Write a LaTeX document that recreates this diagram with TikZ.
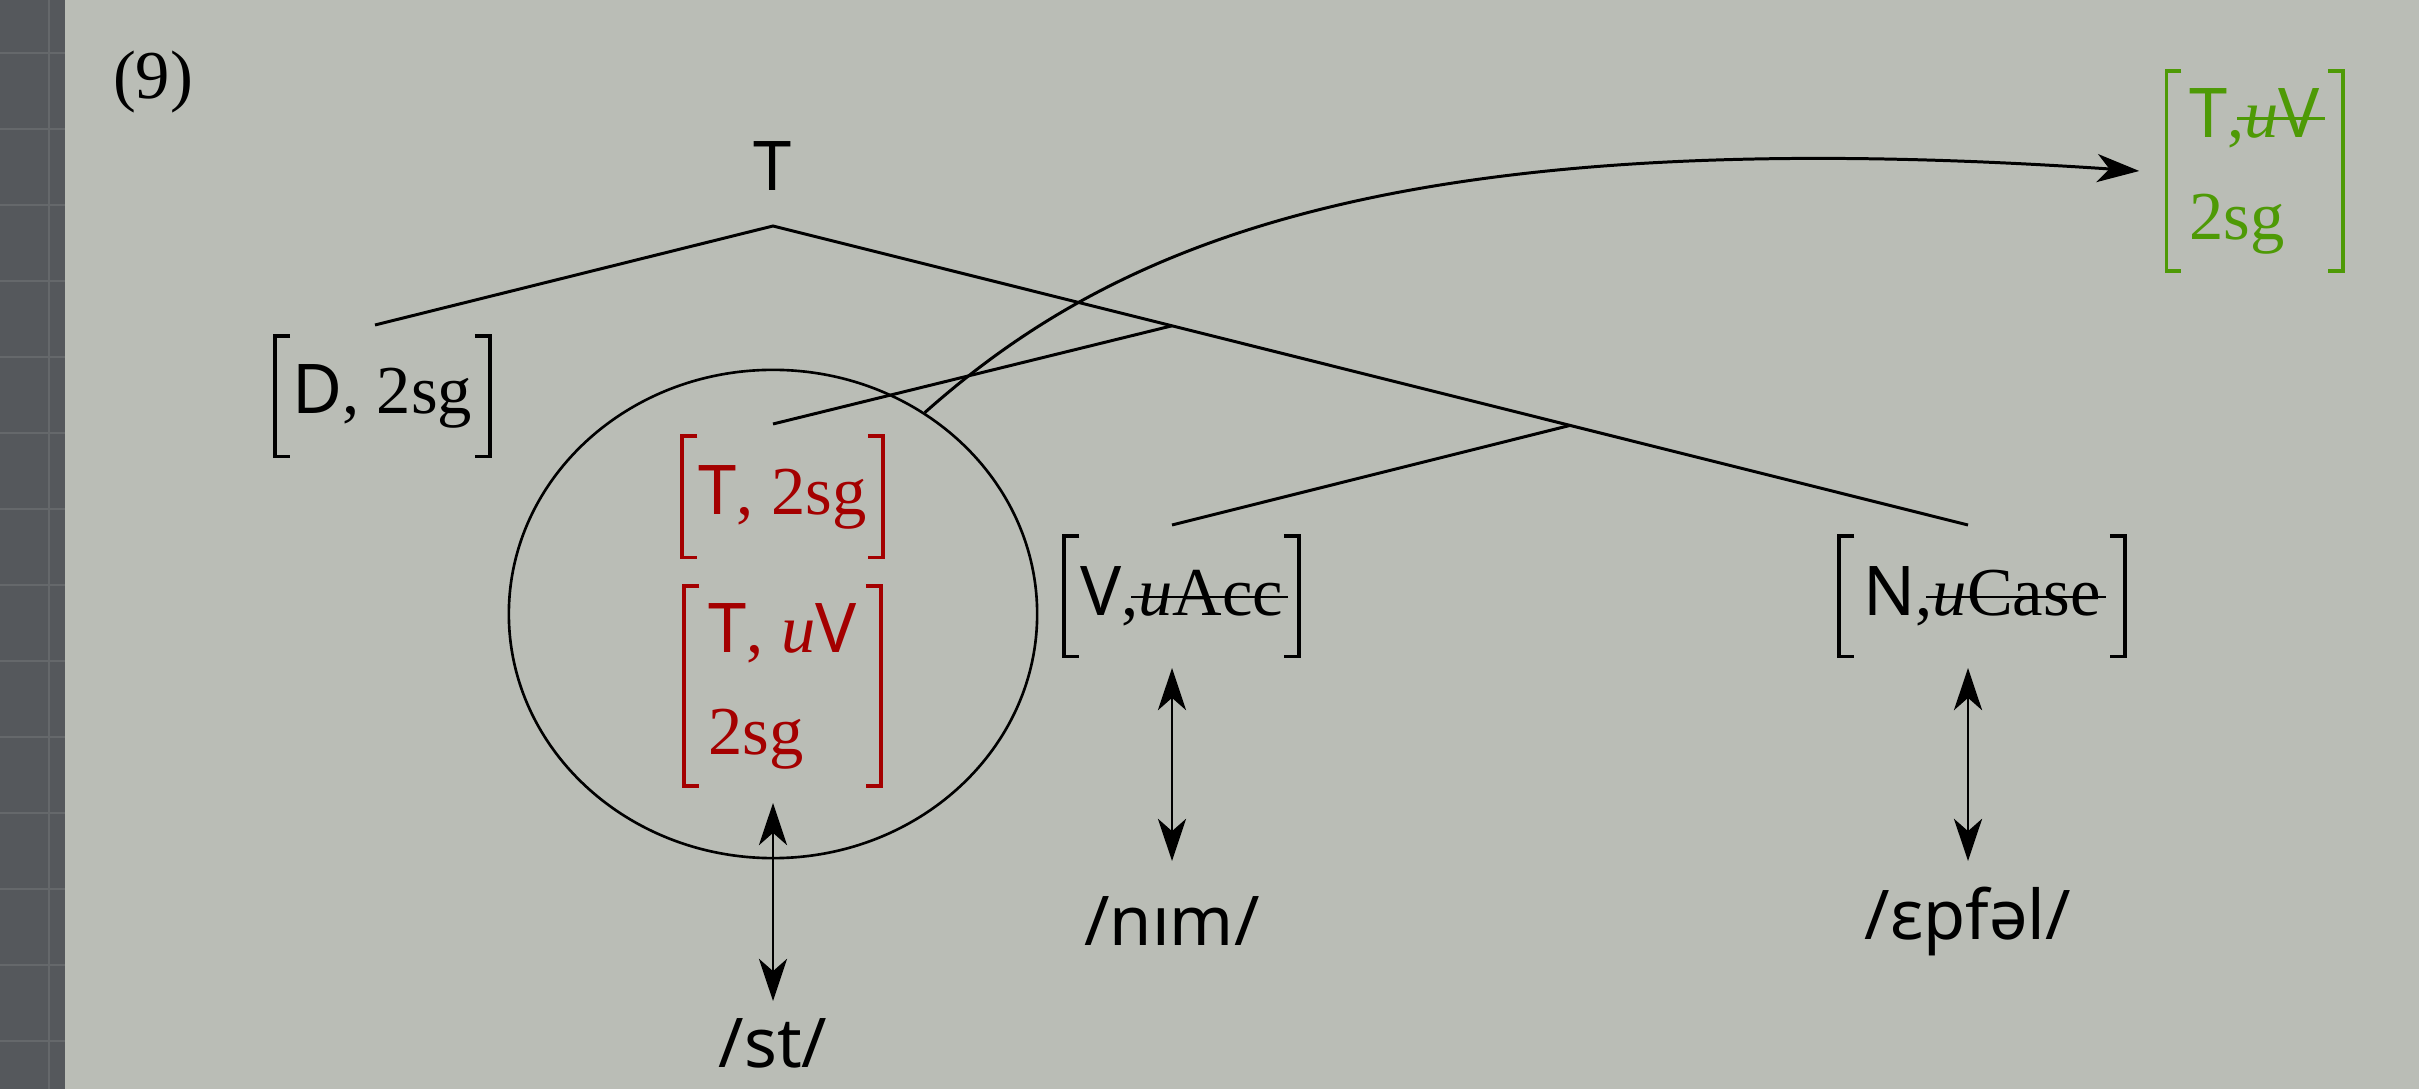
\documentclass[tikz,border=0pt]{standalone}
\usepackage{fontspec}
\setmainfont{Liberation Serif}
\newfontfamily\sanf{Noto Sans}
\usetikzlibrary{arrows.meta,shapes.geometric}
\definecolor{bg}{HTML}{BABDB6}
\definecolor{strip}{HTML}{55585C}
\definecolor{gridc}{HTML}{65686B}
\definecolor{redf}{HTML}{A40000}
\definecolor{greenf}{HTML}{4E9A06}
\newsavebox\strkbox
\newcommand\strk[1]{\sbox\strkbox{#1}\rlap{\kern-2pt\rule[0.55ex]{\dimexpr\wd\strkbox+3.5pt\relax}{0.65pt}}\usebox\strkbox}
\tikzset{
  lbl/.style={inner sep=0pt, font=\fontsize{19.5}{29}\selectfont},
  fbox/.style={lbl, align=left},
  tree/.style={line width=0.85pt},
  brk/.style={line width=1pt, line join=miter},
  dbl/.style={line width=0.8pt, {Stealth[length=12pt,width=8pt,inset=3.5pt]}-{Stealth[length=12pt,width=8pt,inset=3.5pt]}},
}
\newcommand\brk[2]{%
  \draw[brk,#2] ([xshift=0.15cm]#1.north west) -- (#1.north west) -- (#1.south west) -- ([xshift=0.15cm]#1.south west);
  \draw[brk,#2] ([xshift=-0.15cm]#1.north east) -- (#1.north east) -- (#1.south east) -- ([xshift=-0.15cm]#1.south east);}
\begin{document}
\begin{tikzpicture}[x=0.01cm,y=-0.01cm]
\useasboundingbox (0,0) rectangle (2419,1089);
\fill[bg] (0,0) rectangle (2419,1089);
\fill[strip] (0,0) rectangle (65,1089);
\foreach \yy in {53,129,...,1041} \draw[gridc, line width=0.35pt] (0,\yy) -- (65,\yy);
\draw[gridc, line width=0.35pt] (49,0) -- (49,1089);

% ellipse
\node[draw, ellipse, minimum width=5.28cm, minimum height=4.88cm, inner sep=0pt, line width=0.75pt] (ell) at (773,614) {};

% labels
\node[lbl] (num) at (153,82) {(9)};
\node[lbl] (T) at (773,166) {\sanf T};
\node[fbox, minimum width=2.13cm, minimum height=1.19cm] (D) at (382.5,396.5) {{\sanf D}, 2sg};
\node[fbox, text=redf, minimum width=1.99cm, minimum height=1.20cm] (R1) at (782.5,497) {{\sanf T}, 2sg};
\node[fbox, text=redf, minimum width=1.95cm, minimum height=1.98cm] (R2) at (782.5,686) {{\sanf T}, \textit{u}{\sanf V}\\2sg};
\node[fbox, minimum width=2.33cm, minimum height=1.19cm] (V) at (1181.5,596.5) {{\sanf V},\strk{\textit{u}Acc}};
\node[fbox, minimum width=2.84cm, minimum height=1.19cm] (N) at (1982,596.5) {{\sanf N},\strk{\textit{u}Case}};
\node[fbox, text=greenf, minimum width=1.75cm, minimum height=1.98cm] (G) at (2254.5,171) {{\sanf T},\strk{\textit{u}{\sanf V}}\\2sg};
\node[lbl] (st) at (773,1043) {\sanf /st/};
\node[lbl] (nim) at (1172,921) {\sanf /nım/};
\node[lbl] (apf) at (1968,921) {\sanf /ɛpfəl/};

\brk{D}{black}
\brk{R1}{redf}
\brk{R2}{redf}
\brk{V}{black}
\brk{N}{black}
\brk{G}{greenf}

% tree
\coordinate (root) at (773,226);
\coordinate (Dtop) at (375,325);
\coordinate (m1) at (1172,325.8);
\coordinate (m2) at (1570,425.4);
\coordinate (Ttop) at (773,424);
\coordinate (Vtop) at (1172,525);
\coordinate (Ntop) at (1968,525);
\draw[tree] (Dtop) -- (root) -- (Ntop);
\draw[tree] (m1) -- (Ttop);
\draw[tree] (m2) -- (Vtop);

% double arrows
\coordinate (a1) at (773,803); \coordinate (b1) at (773,1001);
\coordinate (a2) at (1172,668); \coordinate (b2) at (1172,861);
\coordinate (a3) at (1968,668); \coordinate (b3) at (1968,861);
\draw[dbl] (a1) -- (b1);
\draw[dbl] (a2) -- (b2);
\draw[dbl] (a3) -- (b3);

% curved arrow
\draw[tree, -{Stealth[length=12pt,width=8pt,inset=3.5pt]}] (ell.53) .. controls (1111,247) and (1388,120) .. ([xshift=-0.27cm]G.west);
\end{tikzpicture}
\end{document}
